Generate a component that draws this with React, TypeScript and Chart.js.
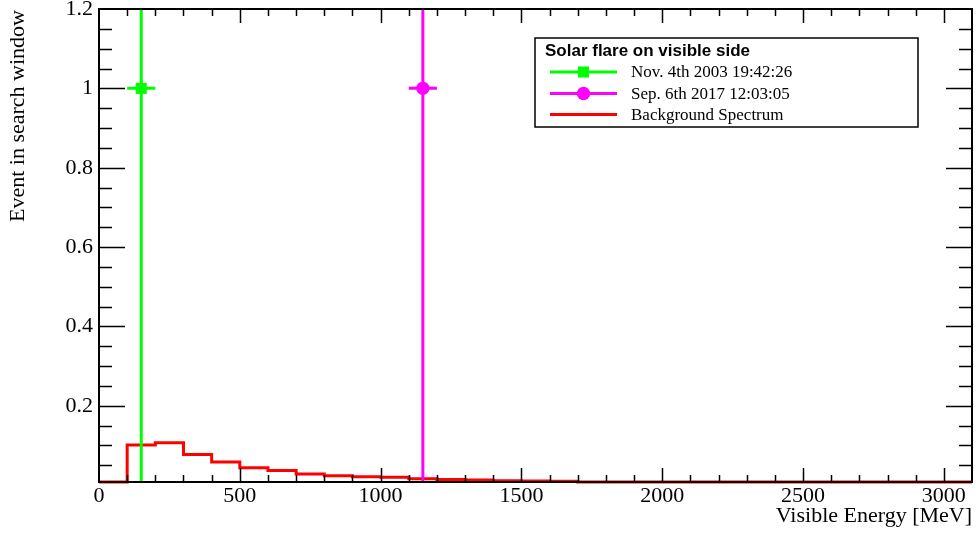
import React, { useEffect, useRef } from "react";
import { Chart, registerables } from "chart.js";

Chart.register(...registerables);

// ---------- data ----------
const BIN_EDGES = [
  0, 100, 200, 300, 400, 500, 600, 700, 800, 900, 1000, 1100, 1200, 1300, 1400, 1500,
  1600, 1700, 1800, 1900, 2000, 2100, 2200, 2300, 2400, 2500, 2600, 2700, 2800, 2900, 3000, 3100,
];
// background spectrum per 100 MeV bin (31 bins)
const BACKGROUND = [
  0, 0.101, 0.107, 0.077, 0.0585, 0.044, 0.037, 0.028, 0.024, 0.021, 0.02, 0.016, 0.0146,
  0.013, 0.011, 0.0106, 0.01, 0.007, 0.006, 0.006, 0.005, 0.005, 0.004, 0.004, 0.004, 0.003,
  0.003, 0.003, 0.002, 0.002, 0.002,
];
const EVENT_LABELS = ["Nov. 4th 2003 19:42:26", "Sep. 6th 2017 12:03:05"];
const EVENT_ENERGY = [150, 1150];
const EVENT_COUNT = [1, 1];
const EVENT_X_ERR = [50, 50];
const EVENT_Y_ERR = [1, 1];
const EVENT_COLORS = ["#00ff00", "#ff00ff"];
const EVENT_MARKERS = ["rect", "circle"];
const BACKGROUND_LABEL = "Background Spectrum";
const LEGEND_TITLE = "Solar flare on visible side";

const X_MIN = 0;
const X_MAX = 3100;
const Y_MIN = 0.008;
const Y_MAX = 1.2;
const X_TICKS = [0, 500, 1000, 1500, 2000, 2500, 3000];
const X_MINOR_STEP = 100;
const Y_TICKS = [0.2, 0.4, 0.6, 0.8, 1, 1.2];
const Y_TICK_LABELS = ["0.2", "0.4", "0.6", "0.8", "1", "1.2"];
const Y_MINOR_STEP = 0.05;
const X_TITLE = "Visible Energy [MeV]";
const Y_TITLE = "Event in search window";

const SERIF = "'Liberation Serif', 'Times New Roman', serif";
const SANS = "'Liberation Sans', Arial, sans-serif";

const rootPlugin = {
  id: "rootStyle",
  afterDatasetDraw(chart: any, args: any) {
    if (args.index !== 2) return;
    const ctx = chart.ctx;
    const xs = chart.scales.x;
    const ys = chart.scales.y;
    const a = chart.chartArea;
    ctx.save();
    ctx.beginPath();
    ctx.rect(a.left, a.top, a.right - a.left, a.bottom - a.top);
    ctx.clip();
    ctx.lineWidth = 3;
    for (let i = 0; i < EVENT_ENERGY.length; i++) {
      ctx.strokeStyle = EVENT_COLORS[i];
      const px = xs.getPixelForValue(EVENT_ENERGY[i]);
      const py = ys.getPixelForValue(EVENT_COUNT[i]);
      ctx.beginPath();
      ctx.moveTo(xs.getPixelForValue(EVENT_ENERGY[i] - EVENT_X_ERR[i]), py);
      ctx.lineTo(xs.getPixelForValue(EVENT_ENERGY[i] + EVENT_X_ERR[i]), py);
      ctx.moveTo(px, ys.getPixelForValue(EVENT_COUNT[i] - EVENT_Y_ERR[i]));
      ctx.lineTo(px, ys.getPixelForValue(EVENT_COUNT[i] + EVENT_Y_ERR[i]));
      ctx.stroke();
    }
    ctx.restore();
  },
  afterDraw(chart: any) {
    const ctx = chart.ctx;
    const xs = chart.scales.x;
    const ys = chart.scales.y;
    const a = chart.chartArea;
    ctx.save();
    // frame
    ctx.strokeStyle = "#000";
    ctx.lineWidth = 2;
    ctx.strokeRect(a.left, a.top, a.right - a.left, a.bottom - a.top);
    // ticks
    ctx.lineWidth = 1.5;
    ctx.beginPath();
    for (let v = X_MIN; v <= X_MAX + 1e-9; v += X_MINOR_STEP) {
      const major = X_TICKS.some((t) => Math.abs(t - v) < 1e-6);
      const len = major ? 14 : 7;
      const px = Math.round(xs.getPixelForValue(v)) + 0.5;
      if (px <= a.left + 1 || px >= a.right - 1) continue;
      ctx.moveTo(px, a.bottom);
      ctx.lineTo(px, a.bottom - len);
      ctx.moveTo(px, a.top);
      ctx.lineTo(px, a.top + len);
    }
    for (let k = 1; k * Y_MINOR_STEP <= Y_MAX + 1e-9; k++) {
      const v = k * Y_MINOR_STEP;
      const major = Y_TICKS.some((t) => Math.abs(t - v) < 1e-6);
      const len = major ? 26 : 13;
      const py = Math.round(ys.getPixelForValue(v)) + 0.5;
      if (py <= a.top + 1 || py >= a.bottom - 1) continue;
      ctx.moveTo(a.left, py);
      ctx.lineTo(a.left + len, py);
      ctx.moveTo(a.right, py);
      ctx.lineTo(a.right - len, py);
    }
    ctx.stroke();

    // axis titles
    ctx.fillStyle = "#000";
    ctx.font = `22px ${SERIF}`;
    ctx.textAlign = "right";
    ctx.textBaseline = "alphabetic";
    ctx.fillText(X_TITLE, a.right, 522);
    ctx.save();
    ctx.translate(24, a.top + 1);
    ctx.rotate(-Math.PI / 2);
    ctx.textAlign = "right";
    ctx.fillText(Y_TITLE, 0, 0);
    ctx.restore();

    // legend
    const lx = 535, ly = 38, lw = 383, lh = 89;
    ctx.fillStyle = "#fff";
    ctx.fillRect(lx, ly, lw, lh);
    ctx.lineWidth = 1.5;
    ctx.strokeStyle = "#000";
    ctx.strokeRect(lx, ly, lw, lh);
    ctx.fillStyle = "#000";
    ctx.font = `bold 17px ${SANS}`;
    ctx.textAlign = "left";
    ctx.textBaseline = "middle";
    ctx.fillText(LEGEND_TITLE, 545, 51);
    const rows = [72, 93.5, 114.5];
    const labels = [...EVENT_LABELS, BACKGROUND_LABEL];
    const colors = [...EVENT_COLORS, "#ff0000"];
    for (let i = 0; i < 3; i++) {
      const y = rows[i];
      ctx.strokeStyle = colors[i];
      ctx.lineWidth = 3;
      ctx.beginPath();
      ctx.moveTo(550, y);
      ctx.lineTo(617, y);
      ctx.stroke();
      ctx.fillStyle = colors[i];
      if (i === 0) {
        ctx.fillRect(583.5 - 5.5, y - 5.5, 11, 11);
      } else if (i === 1) {
        ctx.beginPath();
        ctx.arc(583.5, y, 6.7, 0, Math.PI * 2);
        ctx.fill();
      }
      ctx.fillStyle = "#000";
      ctx.font = `17px ${SERIF}`;
      ctx.fillText(labels[i], 631, y + 1);
    }
    ctx.restore();
  },
};

export default function App() {
  const ref = useRef<HTMLCanvasElement | null>(null);
  useEffect(() => {
    document.body.style.margin = "0";
    const canvas = ref.current;
    if (!canvas) return;
    const histData = BIN_EDGES.map((e, i) => ({
      x: e,
      y: Math.max(BACKGROUND[Math.min(i, BACKGROUND.length - 1)], Y_MIN),
    }));
    const chart = new Chart(canvas, {
      type: "scatter",
      data: {
        datasets: [
          {
            label: EVENT_LABELS[0],
            data: [{ x: EVENT_ENERGY[0], y: EVENT_COUNT[0] }],
            backgroundColor: EVENT_COLORS[0],
            borderColor: EVENT_COLORS[0],
            pointStyle: EVENT_MARKERS[0] as any,
            pointRadius: 7.8,
            borderWidth: 0,
          },
          {
            label: EVENT_LABELS[1],
            data: [{ x: EVENT_ENERGY[1], y: EVENT_COUNT[1] }],
            backgroundColor: EVENT_COLORS[1],
            borderColor: EVENT_COLORS[1],
            pointStyle: EVENT_MARKERS[1] as any,
            pointRadius: 6.7,
            borderWidth: 0,
          },
          {
            label: BACKGROUND_LABEL,
            data: histData,
            showLine: true,
            stepped: "before",
            borderColor: "#ff0000",
            borderWidth: 3,
            pointRadius: 0,
            fill: false,
            clip: { left: 0, top: 0, right: 0, bottom: 3 } as any,
          } as any,
        ],
      },
      options: {
        responsive: false,
        animation: false,
        events: [],
        layout: { autoPadding: false, padding: { top: 9, right: 4, left: 0, bottom: 0 } },
        plugins: {
          legend: { display: false },
          tooltip: { enabled: false },
        },
        scales: {
          x: {
            type: "linear",
            min: X_MIN,
            max: X_MAX,
            grid: { display: false, drawTicks: false },
            border: { display: false },
            afterBuildTicks: (s: any) => {
              s.ticks = X_TICKS.map((v) => ({ value: v }));
            },
            afterFit: (s: any) => {
              s.height = 64;
              s.paddingLeft = 0;
              s.paddingRight = 0;
            },
            ticks: {
              color: "#000",
              padding: 1,
              maxRotation: 0,
              autoSkip: false,
              font: { family: SERIF, size: 22 },
              callback: (v: any) => String(v),
            },
          },
          y: {
            type: "linear",
            min: Y_MIN,
            max: Y_MAX,
            grid: { display: false, drawTicks: false },
            border: { display: false },
            afterBuildTicks: (s: any) => {
              s.ticks = Y_TICKS.map((v) => ({ value: v }));
            },
            afterFit: (s: any) => {
              s.width = 99;
              s.paddingTop = 0;
              s.paddingBottom = 0;
            },
            ticks: {
              color: "#000",
              padding: 6,
              autoSkip: false,
              font: { family: SERIF, size: 22 },
              callback: (v: any) => {
                const i = Y_TICKS.findIndex((t) => Math.abs(t - v) < 1e-9);
                return i >= 0 ? Y_TICK_LABELS[i] : "";
              },
            },
          },
        },
      },
      plugins: [rootPlugin as any],
    });
    return () => chart.destroy();
  }, []);
  return (
    <div style={{ position: "fixed", left: 0, top: 0, width: 976, height: 546, background: "#fff" }}>
      <canvas ref={ref} width={976} height={546} style={{ display: "block" }} />
    </div>
  );
}
